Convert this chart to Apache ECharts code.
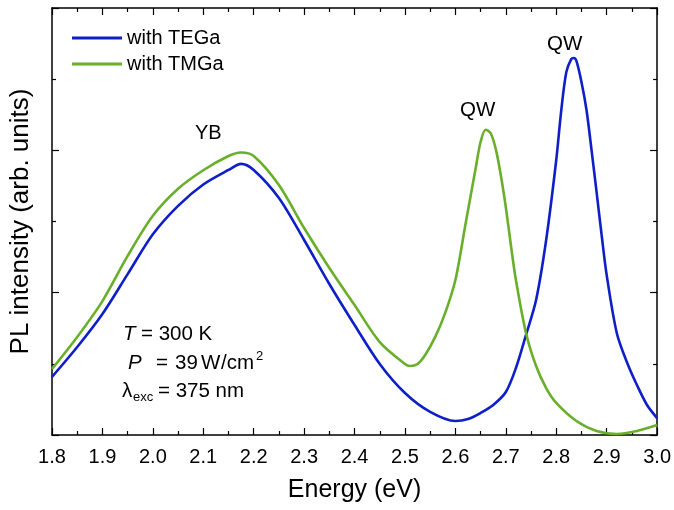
<!DOCTYPE html>
<html>
<head>
<meta charset="utf-8">
<script src="https://cdn.jsdelivr.net/npm/echarts@6/dist/echarts.min.js"></script>
<style>
  html, body { margin: 0; padding: 0; background: #fff; }
  #chart { width: 674px; height: 510px; }
</style>
</head>
<body>
<div id="chart"></div>
<script>
  // PL spectra (energy in eV, intensity in arb. units)
  const tegaEnergy = [1.80, 1.85, 1.90, 1.95, 2.00, 2.05, 2.10, 2.15, 2.175, 2.20,
    2.25, 2.30, 2.35, 2.40, 2.45, 2.50, 2.55, 2.60, 2.625, 2.65,
    2.675, 2.70, 2.72, 2.74, 2.76, 2.78, 2.80, 2.81, 2.82, 2.83,
    2.835, 2.84, 2.85, 2.86, 2.87, 2.88, 2.89, 2.90, 2.92, 2.94,
    2.96, 2.98, 3.00]
  const tegaIntensity = [0.408, 0.618, 0.850, 1.130, 1.410, 1.610, 1.760, 1.862, 1.905, 1.862,
    1.665, 1.370, 1.061, 0.773, 0.499, 0.295, 0.162, 0.098, 0.112, 0.155,
    0.211, 0.302, 0.471, 0.703, 0.948, 1.370, 1.932, 2.283, 2.550, 2.642,
    2.649, 2.628, 2.480, 2.283, 2.002, 1.707, 1.405, 1.124, 0.717, 0.513,
    0.351, 0.211, 0.119]

  const tmgaEnergy = [1.80, 1.85, 1.90, 1.95, 2.00, 2.05, 2.10, 2.15, 2.175, 2.20,
    2.25, 2.30, 2.35, 2.40, 2.45, 2.50, 2.51, 2.525, 2.54,
    2.56, 2.58, 2.60, 2.62, 2.64, 2.65, 2.66, 2.67, 2.68,
    2.69, 2.70, 2.71, 2.72, 2.74, 2.76, 2.78, 2.80, 2.84, 2.88,
    2.92, 2.96, 3.00]
  const tmgaIntensity = [0.464, 0.689, 0.941, 1.258, 1.540, 1.730, 1.860, 1.960, 1.985, 1.960,
    1.756, 1.454, 1.173, 0.913, 0.653, 0.499, 0.485, 0.499, 0.562,
    0.689, 0.860, 1.089, 1.480, 1.870, 2.060, 2.145, 2.120, 2.010,
    1.827, 1.600, 1.335, 1.089, 0.717, 0.485, 0.330, 0.225, 0.098, 0.028,
    0.007, 0.028, 0.070]

  const seriesNames = ['with TEGa', 'with TMGa']
  const colors = ['#0f1fc8', '#6aaf2b']

  const pairs = (xs, ys) => xs.map((x, i) => [x, ys[i]])
  const font = 'Liberation Sans, Arial, sans-serif'

  let chart = echarts.init(document.getElementById('chart'))

  const frameAxis = {
    axisLine: { show: true, onZero: false, lineStyle: { color: '#000', width: 1.5 } },
    axisTick: { show: true, inside: true, length: 7, lineStyle: { color: '#000', width: 1.2 } },
    minorTick: { show: true, splitNumber: 2, length: 4, lineStyle: { color: '#000', width: 1.2 } },
    splitLine: { show: false },
    minorSplitLine: { show: false }
  }

  function label(x, y, text, size, style) {
    return {
      type: 'text', x: x, y: y,
      style: { text: text, font: (style || '') + ' ' + size + 'px ' + font, fill: '#000', verticalAlign: 'middle' }
    }
  }

  let option = {
    animation: false,
    backgroundColor: '#fff',
    color: colors,
    grid: { left: 52, right: 15, top: 8, bottom: 75 },
    legend: {
      orient: 'vertical',
      left: 72,
      top: 28,
      padding: 0,
      itemWidth: 50,
      itemHeight: 3,
      itemGap: 6,
      icon: 'rect',
      textStyle: { fontFamily: font, fontSize: 20, color: '#000' },
      data: seriesNames
    },
    xAxis: [
      Object.assign({
        type: 'value', min: 1.8, max: 3.0, interval: 0.1, position: 'bottom',
        name: 'Energy (eV)', nameLocation: 'middle', nameGap: 43,
        nameTextStyle: { fontFamily: font, fontSize: 25, color: '#000' },
        axisLabel: {
          fontFamily: font, fontSize: 20, color: '#000', margin: 12,
          formatter: v => v.toFixed(1)
        }
      }, frameAxis),
      Object.assign({
        type: 'value', min: 1.8, max: 3.0, interval: 0.1, position: 'top',
        axisLabel: { show: false }
      }, frameAxis)
    ],
    yAxis: [
      Object.assign({
        type: 'value', min: 0, max: 3, interval: 1, position: 'left',
        name: 'PL intensity (arb. units)', nameLocation: 'middle', nameGap: 18,
        nameTextStyle: { fontFamily: font, fontSize: 26, color: '#000' },
        axisLabel: { show: false }
      }, frameAxis),
      Object.assign({
        type: 'value', min: 0, max: 3, interval: 1, position: 'right',
        axisLabel: { show: false }
      }, frameAxis)
    ],
    series: [
      {
        name: seriesNames[0], type: 'line', xAxisIndex: 0, yAxisIndex: 0,
        data: pairs(tegaEnergy, tegaIntensity),
        showSymbol: false, smooth: 0.3,
        lineStyle: { width: 2.6, color: colors[0] }
      },
      {
        name: seriesNames[1], type: 'line', xAxisIndex: 0, yAxisIndex: 0,
        data: pairs(tmgaEnergy, tmgaIntensity),
        showSymbol: false, smooth: 0.3,
        lineStyle: { width: 2.6, color: colors[1] }
      }
    ],
    graphic: [
      label(195, 133, 'YB', 20),
      label(460, 110, 'QW', 20.5),
      label(547, 44, 'QW', 20.5),
      label(123, 334, 'T', 20.5, 'italic'),
      label(141, 334, '= 300 K', 20.5),
      label(128, 363, 'P', 20.5, 'italic'),
      label(156, 363, '=', 20.5),
      label(175, 363, '39', 20.5),
      label(201, 363, 'W', 20.5),
      label(221, 363, '/cm', 20.5),
      label(256, 356, '2', 13),
      label(122, 391, 'λ', 20.5),
      label(133, 397, 'exc', 13),
      label(158, 391, '= 375 nm', 20.5)
    ]
  }

  chart.setOption(option)
</script>
</body>
</html>
